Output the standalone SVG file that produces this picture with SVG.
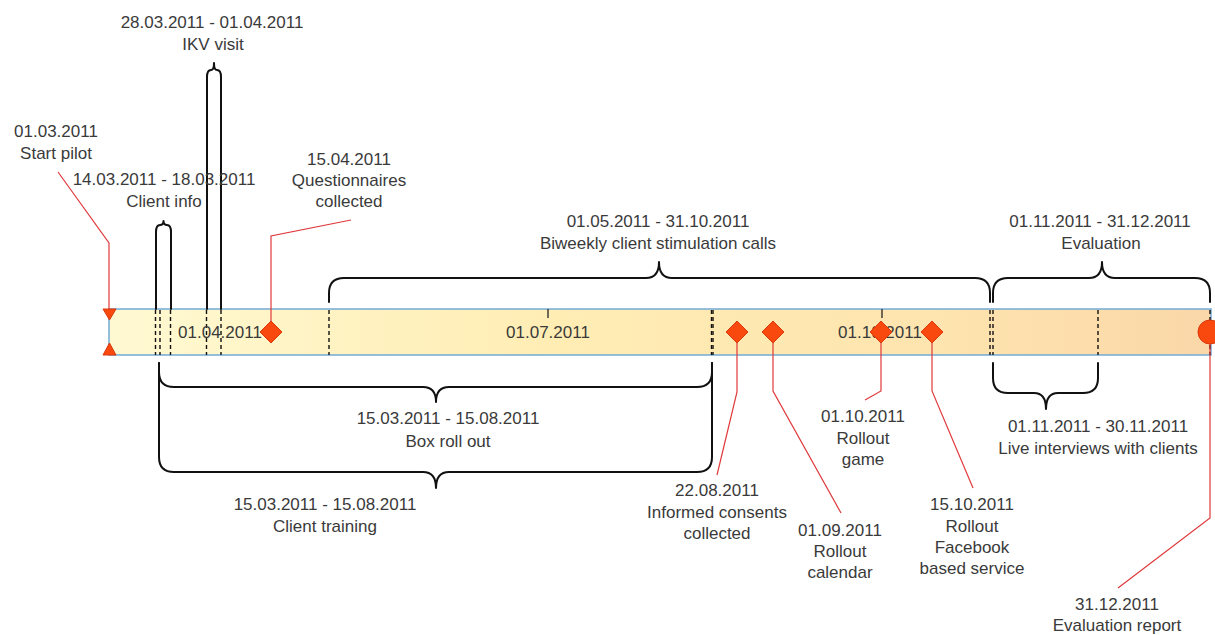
<svg xmlns="http://www.w3.org/2000/svg" width="1215" height="635" viewBox="0 0 1215 635">
<defs>
<linearGradient id="barGrad" x1="0" y1="0" x2="1" y2="0">
<stop offset="0" stop-color="#FFF9D2"/>
<stop offset="0.4" stop-color="#FFEDB4"/>
<stop offset="0.75" stop-color="#FEE4AF"/>
<stop offset="1" stop-color="#FAD7A8"/>
</linearGradient>
<style>
text{font-family:"Liberation Sans",Arial,sans-serif;font-size:17px;fill:#3a3a3a;text-anchor:middle}
.brace{fill:none;stroke:#111;stroke-width:2;stroke-linejoin:round;stroke-linecap:round}
.dash{stroke:#111;stroke-width:1.4;stroke-dasharray:4 3;fill:none}
.tick{stroke:#222;stroke-width:1.3}
.mark{fill:#F9490E;stroke:#D9380C;stroke-width:1}
.conn{fill:none;stroke:#E0393B;stroke-width:1.2}
</style>
</defs>
<rect width="1215" height="635" fill="#ffffff"/>

<g id="timeline">
<rect x="109" y="309" width="1102" height="46" fill="url(#barGrad)" stroke="#7AB0D8" stroke-width="1.6"/>
<line class="dash" x1="155.5" y1="310" x2="155.5" y2="355"/>
<line class="dash" x1="160" y1="310" x2="160" y2="355"/>
<line class="dash" x1="170.5" y1="310" x2="170.5" y2="355"/>
<line class="dash" x1="206.5" y1="310" x2="206.5" y2="355"/>
<line class="dash" x1="221" y1="310" x2="221" y2="355"/>
<line class="dash" x1="329" y1="310" x2="329" y2="355"/>
<line class="dash" x1="711.5" y1="310" x2="711.5" y2="355"/>
<line class="dash" x1="713" y1="310" x2="713" y2="355"/>
<line class="dash" x1="990" y1="310" x2="990" y2="355"/>
<line class="dash" x1="993" y1="310" x2="993" y2="355"/>
<line class="dash" x1="1098" y1="310" x2="1098" y2="355"/>
<line class="dash" x1="1210" y1="310" x2="1210" y2="355"/>
<line class="tick" x1="548" y1="309" x2="548" y2="318"/>
<line class="tick" x1="882" y1="309" x2="882" y2="318"/>
<text x="220" y="338">01.04.2011</text>
<text x="548" y="338">01.07.2011</text>
<text x="880" y="338">01.10.2011</text>
</g>

<g id="connectors">
<polyline class="conn" points="58,172 109,243 109,312"/>
<polyline class="conn" points="271,322 271,236 351,220"/>
<polyline class="conn" points="737,343 737,392 717,475"/>
<polyline class="conn" points="773,343 773,391 841,513"/>
<polyline class="conn" points="881,343 881,391 865,400"/>
<polyline class="conn" points="932,343 932,391 973,488"/>
<polyline class="conn" points="1210,344 1210,518 1118,588"/>
</g>

<g id="start-pilot">
<polygon class="mark" points="103,309 116,309 109.5,320"/>
<polygon class="mark" points="103,355 116,355 109.5,343"/>
<text x="56" y="137">01.03.2011</text>
<text x="56" y="159">Start pilot</text>
</g>

<g id="ikv-visit">
<path class="brace" d="M207,309 V77 Q207,70 211,70 Q214,70 214,63 Q214,70 217,70 Q221,70 221,77 V309"/>
<text x="212" y="28">28.03.2011 - 01.04.2011</text>
<text x="213" y="50">IKV visit</text>
</g>

<g id="client-info">
<path class="brace" d="M156,309 V232 Q156,225 160,225 Q163.5,225 163.5,221 Q163.5,225 167,225 Q171,225 171,232 V309"/>
<text x="164" y="185">14.03.2011 - 18.03.2011</text>
<text x="164" y="207">Client info</text>
</g>

<g id="questionnaires">
<polygon class="mark" points="271,321 282,332 271,343 260,332"/>
<text x="349" y="165">15.04.2011</text>
<text x="349" y="186">Questionnaires</text>
<text x="349" y="207">collected</text>
</g>

<g id="biweekly-calls">
<path class="brace" d="M329,302 V293 Q329,278 344,278 H646 Q659,278 659,262 Q659,278 672,278 H975 Q990,278 990,293 V302"/>
<text x="658" y="227">01.05.2011 - 31.10.2011</text>
<text x="658" y="249">Biweekly client stimulation calls</text>
</g>

<g id="evaluation">
<path class="brace" d="M993,302 V293 Q993,278 1008,278 H1089 Q1102,278 1102,262 Q1102,278 1115,278 H1195 Q1210,278 1210,293 V302"/>
<text x="1100" y="227">01.11.2011 - 31.12.2011</text>
<text x="1101" y="249">Evaluation</text>
</g>

<g id="box-roll-out">
<path class="brace" d="M159,363 V372 Q159,387 174,387 H423 Q436,387 436,402 Q436,387 449,387 H697 Q712,387 712,372 V363"/>
<text x="448" y="424">15.03.2011 - 15.08.2011</text>
<text x="448" y="447">Box roll out</text>
</g>

<g id="client-training">
<path class="brace" d="M159,363 V457 Q159,472 174,472 H423 Q436,472 436,488 Q436,472 449,472 H697 Q712,472 712,457 V363"/>
<text x="325" y="510">15.03.2011 - 15.08.2011</text>
<text x="325" y="532">Client training</text>
</g>

<g id="live-interviews">
<path class="brace" d="M993,363 V378 Q993,393 1008,393 H1034 Q1046,393 1046,409 Q1046,393 1058,393 H1083 Q1098,393 1098,378 V363"/>
<text x="1098" y="432">01.11.2011 - 30.11.2011</text>
<text x="1098" y="454">Live interviews with clients</text>
</g>

<g id="informed-consents">
<polygon class="mark" points="737,321 748,332 737,343 726,332"/>
<text x="717" y="496">22.08.2011</text>
<text x="717" y="518">Informed consents</text>
<text x="717" y="539">collected</text>
</g>

<g id="rollout-calendar">
<polygon class="mark" points="773,321 784,332 773,343 762,332"/>
<text x="840" y="536">01.09.2011</text>
<text x="840" y="557">Rollout</text>
<text x="840" y="578">calendar</text>
</g>

<g id="rollout-game">
<polygon class="mark" points="881,321 892,332 881,343 870,332"/>
<text x="863" y="422">01.10.2011</text>
<text x="863" y="444">Rollout</text>
<text x="863" y="465">game</text>
</g>

<g id="rollout-facebook">
<polygon class="mark" points="932,321 943,332 932,343 921,332"/>
<text x="972" y="510">15.10.2011</text>
<text x="972" y="532">Rollout</text>
<text x="972" y="553">Facebook</text>
<text x="972" y="574">based service</text>
</g>

<g id="evaluation-report">
<circle class="mark" cx="1210" cy="332" r="12"/>
<text x="1117" y="610">31.12.2011</text>
<text x="1117" y="631">Evaluation report</text>
</g>
</svg>
